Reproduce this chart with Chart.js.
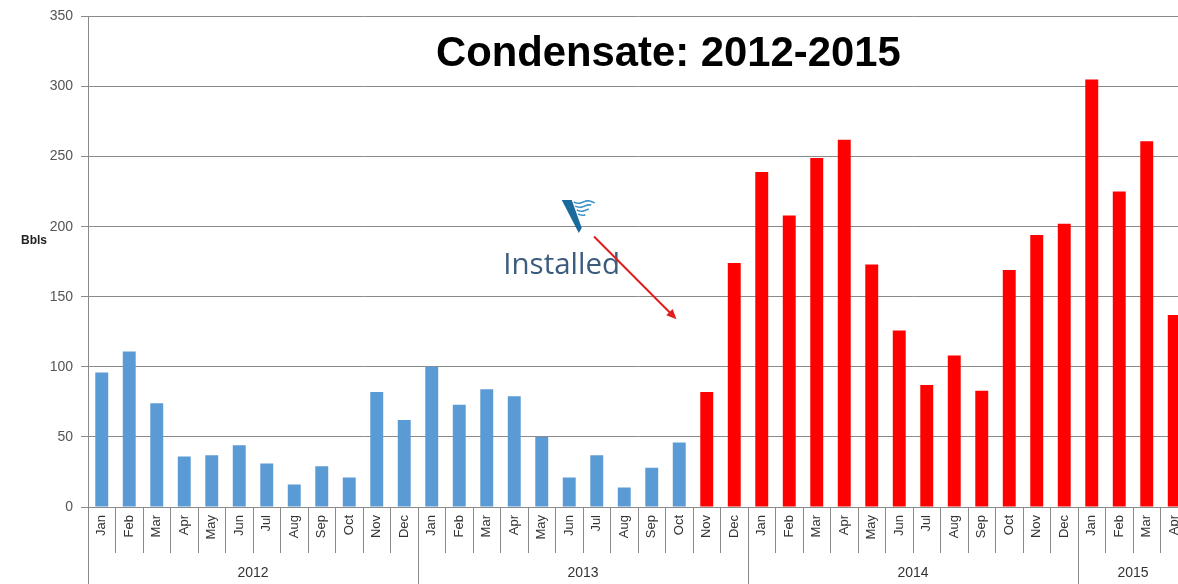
<!DOCTYPE html>
<html><head><meta charset="utf-8">
<script src="https://cdn.jsdelivr.net/npm/chart.js@4"></script>
<style>
html,body{margin:0;padding:0;overflow:hidden;background:#fff;width:1178px;height:584px}
#wrap{width:1190px;height:584px;position:absolute;left:0;top:0}
</style></head>
<body><div id="wrap"><canvas id="c" width="1190" height="584"></canvas></div>
<script>
// ---- data ----
const years = ['2012', '2013', '2014', '2015'];
const monthNames = ['Jan','Feb','Mar','Apr','May','Jun','Jul','Aug','Sep','Oct','Nov','Dec'];
const monthsShown = [12, 12, 12, 4];
const bbls2012 = [96, 111, 74, 36, 37, 44, 31, 16, 29, 21, 82, 62];
const bbls2013 = [100, 73, 84, 79, 50, 21, 37, 14, 28, 46, 82, 174];
const bbls2014 = [239, 208, 249, 262, 173, 126, 87, 108, 83, 169, 194, 202];
const bbls2015 = [305, 225, 261, 137];
const yTicks = [0, 50, 100, 150, 200, 250, 300, 350];
const titleText = 'Condensate: 2012-2015';
const yAxisLabel = 'Bbls';
const annotationText = 'Installed';
const installedIndex = 22; // Nov 2013: first month after installation

// ---- derived ----
const labels = [];
years.forEach((y, i) => { for (let m = 0; m < monthsShown[i]; m++) labels.push(monthNames[m]); });
const values = [].concat(bbls2012, bbls2013, bbls2014, bbls2015);

const BLUE = '#5B9BD5', RED = '#FF0000';
const FONT = '"Liberation Sans", Arial, sans-serif';
const GRID = '#8a8a8a';

function fitFont(ctx, text, weight, width, family) {
  ctx.font = weight + ' 100px ' + family;
  const w = ctx.measureText(text).width;
  return 100 * width / w;
}

const decorPlugin = {
  id: 'decor',
  afterDraw(chart) {
    const ctx = chart.ctx, xs = chart.scales.x, ys = chart.scales.y, ca = chart.chartArea;
    const H = chart.height;
    ctx.save();
    // y axis line extension below the plot
    ctx.strokeStyle = GRID; ctx.lineWidth = 1;
    ctx.beginPath(); ctx.moveTo(ca.left + 0.5, ca.bottom); ctx.lineTo(ca.left + 0.5, H); ctx.stroke();
    // year group separators and labels
    let start = 0;
    const monthBand = 46;
    const half = (xs.getPixelForValue(1) - xs.getPixelForValue(0)) / 2;
    years.forEach((yr, i) => {
      const end = start + monthsShown[i];
      const left = xs.getPixelForValue(start) - half;
      const right = xs.getPixelForValue(end - 1) + half;
      if (i > 0) {
        ctx.beginPath(); ctx.moveTo(Math.round(left) + 0.5, ca.bottom + monthBand); ctx.lineTo(Math.round(left) + 0.5, H); ctx.stroke();
      }
      ctx.fillStyle = '#333';
      ctx.font = '14px ' + FONT;
      ctx.textAlign = 'center'; ctx.textBaseline = 'middle';
      ctx.fillText(yr, (left + right) / 2, ca.bottom + 66);
      start = end;
    });
    // y axis label (horizontal)
    ctx.fillStyle = '#222';
    ctx.font = 'bold 12px ' + FONT;
    ctx.textAlign = 'left'; ctx.textBaseline = 'middle';
    ctx.fillText(yAxisLabel, 21, ys.getPixelForValue(190));
    // title
    const tSize = fitFont(ctx, titleText, 'bold', 465, FONT);
    ctx.font = 'bold ' + tSize.toFixed(1) + 'px ' + FONT;
    ctx.fillStyle = '#000';
    ctx.textAlign = 'left'; ctx.textBaseline = 'alphabetic';
    ctx.fillText(titleText, 436, 66);
    // logo
    const lx = xs.getPixelForValue(16.8), ly = ys.getPixelForValue(219);
    ctx.fillStyle = '#1B6A9C';
    ctx.beginPath();
    ctx.moveTo(lx - 2, ly); ctx.lineTo(lx + 8, ly); ctx.lineTo(lx + 18, ly + 28); ctx.lineTo(lx + 15, ly + 33);
    ctx.closePath(); ctx.fill();
    ctx.strokeStyle = '#3E93C6'; ctx.lineWidth = 1.6;
    for (let k = 0; k < 4; k++) {
      const wy = ly + 2 + k * 4, wx0 = lx + 10 + k * 1.5, wx1 = lx + 31 - k * 3;
      ctx.beginPath();
      for (let x = wx0; x <= wx1; x += 1) {
        const yy = wy + Math.sin((x - wx0) / 3) * 1.2;
        if (x === wx0) ctx.moveTo(x, yy); else ctx.lineTo(x, yy);
      }
      ctx.stroke();
    }
    // "Installed"
    const iSize = fitFont(ctx, annotationText, 'normal', 117, '"Open Sans", ' + FONT);
    ctx.font = iSize.toFixed(1) + 'px "Open Sans", ' + FONT;
    ctx.fillStyle = '#3C5C7E';
    ctx.textAlign = 'left'; ctx.textBaseline = 'alphabetic';
    ctx.fillText(annotationText, xs.getPixelForValue(14.6), ys.getPixelForValue(166));
    // arrow
    const ax0 = xs.getPixelForValue(17.9), ay0 = ys.getPixelForValue(193);
    const ax1 = xs.getPixelForValue(20.9), ay1 = ys.getPixelForValue(134);
    ctx.strokeStyle = '#E01E1E'; ctx.fillStyle = '#E01E1E'; ctx.lineWidth = 2;
    const ang = Math.atan2(ay1 - ay0, ax1 - ax0);
    ctx.beginPath(); ctx.moveTo(ax0, ay0); ctx.lineTo(ax1 - 6 * Math.cos(ang), ay1 - 6 * Math.sin(ang)); ctx.stroke();
    ctx.beginPath();
    ctx.moveTo(ax1, ay1);
    ctx.lineTo(ax1 - 10 * Math.cos(ang) + 4.5 * Math.sin(ang), ay1 - 10 * Math.sin(ang) - 4.5 * Math.cos(ang));
    ctx.lineTo(ax1 - 10 * Math.cos(ang) - 4.5 * Math.sin(ang), ay1 - 10 * Math.sin(ang) + 4.5 * Math.cos(ang));
    ctx.closePath(); ctx.fill();
    ctx.restore();
  }
};

new Chart(document.getElementById('c'), {
  type: 'bar',
  data: {
    labels: labels,
    datasets: [{
      label: 'Condensate (Bbls)',
      data: values,
      backgroundColor: (c) => c.dataIndex >= installedIndex ? RED : BLUE,
      borderWidth: 0,
      categoryPercentage: 1,
      barPercentage: 0.47
    }]
  },
  options: {
    responsive: false,
    animation: false,
    devicePixelRatio: 1,
    layout: { padding: { top: 16, right: 2, left: 0, bottom: 0 } },
    plugins: { legend: { display: false }, tooltip: { enabled: false }, title: { display: false } },
    scales: {
      x: {
        offset: true,
        grid: { offset: true, drawOnChartArea: false, tickLength: 46, color: GRID, lineWidth: 1 },
        border: { display: true, color: GRID },
        ticks: { autoSkip: false, minRotation: 90, maxRotation: 90, padding: -38, color: '#333', font: { size: 13, family: FONT } },
        afterFit(s) { s.height = 77; }
      },
      y: {
        min: 0, max: 350,
        afterBuildTicks(s) { s.ticks = yTicks.map(v => ({ value: v })); },
        grid: { color: GRID, tickLength: 7, lineWidth: 1 },
        border: { display: true, color: GRID },
        ticks: { padding: 8, color: '#555', font: { size: 14, family: FONT } },
        afterFit(s) { s.width = 88; }
      }
    }
  },
  plugins: [decorPlugin]
});
</script>
</body></html>
